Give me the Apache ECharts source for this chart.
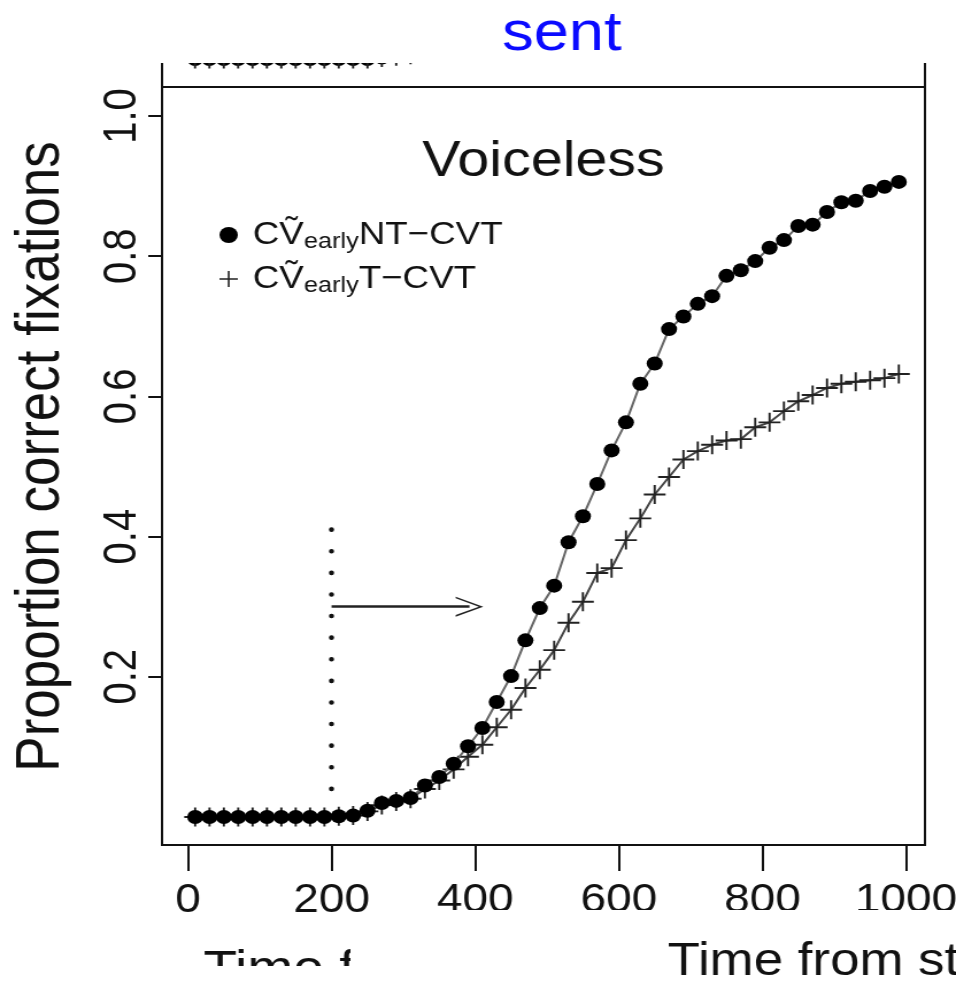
<!DOCTYPE html>
<html>
<head>
<meta charset="utf-8">
<script src="https://cdn.jsdelivr.net/npm/echarts@6.0.0/dist/echarts.min.js"></script>
<style>
  html, body { margin: 0; padding: 0; background: #fff; overflow: hidden; }
  #main { width: 832px; height: 986px; transform: scaleX(1.149); transform-origin: 0 0; }
</style>
</head>
<body>
<div id="main"></div>
<script>
// time from stimulus onset (ms)
const times = [10, 30, 50, 70, 90, 110, 130, 150, 170, 190,
  210, 230, 250, 270, 290, 310, 330, 350, 370, 390,
  410, 430, 450, 470, 490, 510, 530, 550, 570, 590,
  610, 630, 650, 670, 690, 710, 730, 750, 770, 790,
  810, 830, 850, 870, 890, 910, 930, 950, 970, 990];

// C V~early NT-CVT (filled circles)
const ntValues = [0, 0, 0, 0, 0, 0, 0, 0, 0, 0,
  0.001, 0.002, 0.009, 0.020, 0.023, 0.027, 0.045, 0.057, 0.076, 0.101,
  0.127, 0.164, 0.201, 0.252, 0.298, 0.330, 0.392, 0.429, 0.475, 0.523,
  0.563, 0.618, 0.647, 0.696, 0.714, 0.732, 0.743, 0.772, 0.780, 0.793,
  0.812, 0.823, 0.843, 0.845, 0.863, 0.877, 0.879, 0.893, 0.899, 0.906];

// C V~early T-CVT (plus signs)
const tValues = [0, 0, 0, 0, 0, 0, 0, 0, 0, 0,
  0.001, 0.002, 0.008, 0.017, 0.022, 0.026, 0.040, 0.052, 0.068, 0.086,
  0.103, 0.128, 0.153, 0.184, 0.210, 0.238, 0.277, 0.307, 0.348, 0.355,
  0.395, 0.426, 0.460, 0.485, 0.510, 0.522, 0.531, 0.537, 0.539, 0.556,
  0.563, 0.579, 0.593, 0.602, 0.612, 0.618, 0.621, 0.623, 0.626, 0.632];

// bottom edge of the panel above (mostly cropped away)
const upperTimes = [10, 30, 50, 70, 90, 110, 130, 150, 170, 190, 210, 230, 250,
  270, 290, 310, 330, 350, 370, 390, 410, 430, 450];
const upperValues = [0, 0, 0, 0, 0, 0, 0, 0, 0, 0, 0, 0, 0,
  0.002, 0.004, 0.006, 0.010, 0.014, 0.018, 0.022, 0.030, 0.040, 0.050];

const yTicks = [0.2, 0.4, 0.6, 0.8, 1.0];

// dotted cue line and arrow
const cueTime = 200;
const cueRange = [0.01, 0.41];
const arrowLevel = 0.30;
const arrowEnd = 392;

const ntLabel = 'NT\u2212CVT';
const tLabel = 'T\u2212CVT';
const xTitle = 'Time from stimulus onset (ms)';

const font = '"Liberation Sans", Arial, Helvetica, sans-serif';
const plusPath = 'path://M9,0 L11,0 L11,9 L20,9 L20,11 L11,11 L11,20 L9,20 L9,11 L0,11 L0,9 L9,9 Z';
const chevron = 'path://M5,0 L10,10 L9.2,10 L5,1.6 L0.8,10 L0,10 Z';
const tickLine = { show: true, lineStyle: { color: '#111', width: 2, type: 'solid' } };

const chart = echarts.init(document.getElementById('main'), null, { renderer: 'canvas' });

const ntData = times.map((t, i) => [t, ntValues[i]]);
const tData = times.map((t, i) => [t, tValues[i]]);
const upperData = upperTimes.map((t, i) => [t, upperValues[i]]);

chart.setOption({
  backgroundColor: '#fff',
  animation: false,
  title: [
    {
      text: 'sent', left: 484, top: 2, textAlign: 'center', z: 60,
      textStyle: { color: '#0a0aff', fontSize: 55, fontWeight: 'normal', fontFamily: '"Liberation Sans Narrow", "Liberation Sans", sans-serif' }
    },
    {
      text: 'Voiceless', left: 468, top: 132, textAlign: 'center',
      textStyle: { color: '#111', fontSize: 50, fontWeight: 'normal', fontFamily: font }
    }
  ],
  legend: {
    orient: 'vertical', left: 186, top: 212, itemWidth: 16, itemHeight: 16, itemGap: 8,
    data: [
      { name: ntLabel, icon: 'circle', itemStyle: { color: '#000' } },
      { name: tLabel, icon: plusPath, itemStyle: { color: '#222' } }
    ],
    formatter: name => '{m|C\u1E7C}{s|early}{m|' + name + '}',
    textStyle: {
      padding: [0, 0, 0, 8],
      rich: {
        m: { fontSize: 32, lineHeight: 36, color: '#111', fontFamily: font },
        s: { fontSize: 22, lineHeight: 36, padding: [14, 0, 0, 0], color: '#111', fontFamily: font }
      }
    }
  },
  grid: [
    // data area: 0..1000 ms, 0..1 proportion
    { left: 163.6, width: 624.9, top: 116, height: 701, show: false, outerBoundsMode: 'none' },
    // panel above
    { left: 141, right: 27, top: 0, height: 87, show: true, borderColor: '#111', borderWidth: 2,
      backgroundColor: 'transparent', outerBoundsMode: 'none' },
    // plot box
    { left: 141, right: 27, top: 87, height: 758, show: true, borderColor: '#111', borderWidth: 2,
      backgroundColor: 'transparent', outerBoundsMode: 'none' },
    // tick strip below the box
    { left: 163.6, width: 624.9, top: 845, height: 26, show: false, outerBoundsMode: 'none' },
    // tick strip left of the box
    { left: 129, width: 12, top: 116, height: 561, show: false, outerBoundsMode: 'none' }
  ],
  xAxis: [
    {
      type: 'value', gridIndex: 0, min: 0, max: 1000, interval: 200, offset: 28,
      splitLine: { show: false }, axisLine: { show: false, onZero: false }, axisTick: { show: false },
      axisLabel: { margin: 36, fontSize: 40, color: '#111', fontFamily: font, formatter: v => String(v) }
    },
    { type: 'value', gridIndex: 1, min: -36, max: 1026, show: false },
    { type: 'value', gridIndex: 2, min: 0, max: 1, show: false },
    {
      type: 'value', gridIndex: 3, min: 0, max: 1000, interval: 200,
      axisLine: { show: false }, axisTick: { show: false }, axisLabel: { show: false }, splitLine: tickLine
    },
    { type: 'value', gridIndex: 4, min: 0, max: 1, show: false }
  ],
  yAxis: [
    {
      type: 'value', gridIndex: 0, min: 0, max: 1, offset: 22.6,
      splitLine: { show: false }, axisLine: { show: false, onZero: false }, axisTick: { show: false },
      axisLabel: { customValues: yTicks, rotate: 90, margin: 14, fontSize: 40, color: '#111', fontFamily: font,
        formatter: v => v.toFixed(1) },
      name: 'Proportion correct fixations', nameLocation: 'middle', nameGap: 78,
      nameTextStyle: { fontSize: 53, color: '#111', fontFamily: font, padding: [0, 0, 0, 20] }
    },
    { type: 'value', gridIndex: 1, min: -0.04, max: 0.0843, show: false },
    { type: 'value', gridIndex: 2, min: 0, max: 1, show: false },
    { type: 'value', gridIndex: 3, min: 0, max: 1, show: false },
    {
      type: 'value', gridIndex: 4, min: 0.2, max: 1.0, interval: 0.2,
      axisLine: { show: false }, axisTick: { show: false }, axisLabel: { show: false }, splitLine: tickLine
    }
  ],
  series: [
    {
      name: tLabel, type: 'line', data: tData, xAxisIndex: 0, yAxisIndex: 0, clip: false,
      symbol: plusPath, symbolSize: 19,
      itemStyle: { color: '#222' }, lineStyle: { color: '#444', width: 2 }, z: 3
    },
    {
      name: ntLabel, type: 'line', data: ntData, xAxisIndex: 0, yAxisIndex: 0, clip: false,
      symbol: 'circle', symbolSize: 14,
      itemStyle: { color: '#000' }, lineStyle: { color: '#666', width: 2 }, z: 4,
      markLine: {
        silent: true, animation: false, label: { show: false },
        data: [
          [
            { coord: [cueTime, cueRange[1]], symbol: 'none',
              lineStyle: { type: [0.1, 21.5], cap: 'round', width: 4.5, color: '#111' } },
            { coord: [cueTime, cueRange[0]], symbol: 'none' }
          ],
          [
            { coord: [cueTime, arrowLevel], symbol: 'none',
              lineStyle: { type: 'solid', width: 2.5, color: '#222' } },
            { coord: [arrowEnd, arrowLevel], symbol: chevron, symbolSize: [20, 24] }
          ]
        ]
      }
    },
    {
      name: 'upper', type: 'line', data: upperData, xAxisIndex: 1, yAxisIndex: 1,
      symbol: 'circle', symbolSize: 14, itemStyle: { color: '#000' }, lineStyle: { color: '#666', width: 2 }
    },
    {
      name: 'upperPlus', type: 'line', data: upperData, xAxisIndex: 1, yAxisIndex: 1,
      symbol: plusPath, symbolSize: 19, itemStyle: { color: '#222' }, lineStyle: { width: 0 }
    }
  ],
  graphic: [
    { type: 'rect', shape: { x: 0, y: 0, width: 832, height: 63 }, style: { fill: '#fff' }, z: 50 },
    { type: 'rect', shape: { x: 393, y: 910, width: 440, height: 30 }, style: { fill: '#fff' }, z: 50 },
    { type: 'text', x: 581, y: 939, style: { text: xTitle, fontSize: 46, fill: '#111', fontFamily: font, verticalAlign: 'top' }, z: 40 },
    { type: 'text', x: 177, y: 947, style: { text: 'Time from', fontSize: 48, fill: '#111', fontFamily: font, verticalAlign: 'top' }, z: 40 },
    { type: 'rect', shape: { x: 305, y: 940, width: 270, height: 46 }, style: { fill: '#fff' }, z: 50 },
    { type: 'rect', shape: { x: 0, y: 966, width: 305, height: 20 }, style: { fill: '#fff' }, z: 50 }
  ]
});
</script>
</body>
</html>
